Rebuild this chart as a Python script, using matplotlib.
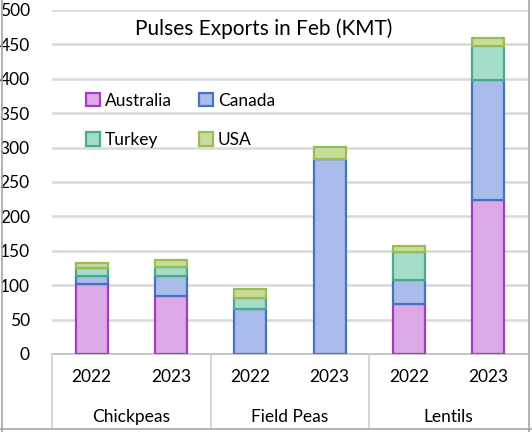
import matplotlib
matplotlib.use("Agg")
import matplotlib.pyplot as plt
from matplotlib.patches import Patch
from matplotlib.lines import Line2D
import numpy as np

groups = ["Chickpeas", "Field Peas", "Lentils"]
years = ["2022", "2023", "2022", "2023", "2022", "2023"]
series = ["Australia", "Canada", "Turkey", "USA"]
australia = [102, 85, 0, 0, 73, 224]
canada = [11, 28, 65, 283, 34, 174]
turkey = [12, 14, 17, 0, 41, 49]
usa = [7, 10, 12, 18, 9, 13]
values = [australia, canada, turkey, usa]
yticks = [0, 50, 100, 150, 200, 250, 300, 350, 400, 450, 500]

faces = ["#DDA8E6", "#A9BDEB", "#A5DDCB", "#C6DE99"]
edges = ["#A040C0", "#4A72C4", "#4BAA8A", "#9BBB59"]

plt.rcParams['font.family'] = ['Lato', 'DejaVu Sans']
W, H = 532, 432
fig = plt.figure(figsize=(W / 100, H / 100), dpi=100)
L, R, T, B = 52, 528, 10, 354
ax = fig.add_axes([L / W, 1 - B / H, (R - L) / W, (B - T) / H])

x = np.arange(len(years))
bottom = np.zeros(len(years))
for s, vals, fc, ec in zip(series, values, faces, edges):
    v = np.array(vals, dtype=float)
    ax.bar(x, v, bottom=bottom, width=0.4, color=fc, edgecolor=ec, linewidth=1.6, zorder=3, label=s)
    bottom += v

ax.set_xlim(-0.5, len(years) - 0.5)
ax.set_ylim(0, 500)
ax.set_yticks(yticks)
ax.set_yticklabels([str(t) for t in yticks], fontsize=12.5)
ax.grid(axis='y', color='#D9D9D9', linewidth=1.8, zorder=0)
ax.set_axisbelow(True)
for sp in ax.spines.values():
    sp.set_visible(False)
ax.tick_params(axis='y', length=0, pad=16)
ax.set_xticks(x)
ax.set_xticklabels(years, fontsize=12.5)
ax.tick_params(axis='x', length=0, pad=11)

# category axis box
tr = ax.get_xaxis_transform()
ax.add_line(Line2D([-0.5, len(years) - 0.5], [0, 0], transform=tr, color='#BFBFBF', lw=1.2, clip_on=False))
for sep in [-0.5, 1.5, 3.5]:
    ax.add_line(Line2D([sep, sep], [0, -74 / (B - T)], transform=tr, color='#D0D0D0', lw=1.2, clip_on=False))
for i, g in enumerate(groups):
    ax.text(2 * i + 0.5, -63 / (B - T), g, transform=tr, ha='center', va='center', fontsize=12.5)

fig.text(264 / W, 1 - 29 / H, "Pulses Exports in Feb (KMT)", fontsize=15, ha='center', va='center')

# outer frame
fig.add_artist(Line2D([2 / W, 2 / W], [0, 1], transform=fig.transFigure, color='#A6A6A6', lw=1.2))
fig.add_artist(Line2D([0, 1], [1 - 429 / H, 1 - 429 / H], transform=fig.transFigure, color='#A6A6A6', lw=1.2))
fig.add_artist(Line2D([529 / W, 529 / W], [0, 1], transform=fig.transFigure, color='#A6A6A6', lw=1.2))

handles = [Patch(facecolor=fc, edgecolor=ec, linewidth=1.6) for fc, ec in zip(faces, edges)]
order = [0, 2, 1, 3]
ax.legend([handles[i] for i in order], [series[i] for i in order], ncol=2, loc='upper left',
          bbox_to_anchor=(0.038, 0.805),
          frameon=False, fontsize=12.5, handlelength=0.8, handleheight=0.8,
          handletextpad=0.3, columnspacing=1.55, labelspacing=1.35)

fig.savefig("out.png", dpi=100, facecolor='white')
